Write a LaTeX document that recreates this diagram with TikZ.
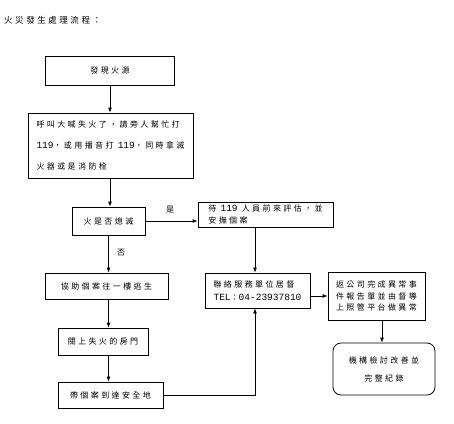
\documentclass[tikz,border=0pt]{standalone}
\usepackage{fontspec}
\setmainfont{Liberation Mono}
\newfontfamily\cjk[LetterSpace=30]{Noto Sans CJK TC}
\newfontfamily\latfont{Liberation Mono}
\newcommand{\lt}[1]{{\latfont\fontsize{9.5}{12}\selectfont #1}}
\usetikzlibrary{arrows.meta}
\tikzset{
  box/.style={draw, line width=0.8pt, inner sep=0pt, font=\cjk\fontsize{8}{13}\selectfont},
  conn/.style={draw, line width=0.8pt, -{Latex[length=5pt,width=4pt]}},
  plain/.style={draw, line width=0.8pt},
  lbl/.style={font=\cjk\fontsize{8}{13}\selectfont, inner sep=0pt}
}
\begin{document}
\begin{tikzpicture}[x=1pt,y=-1pt]
\useasboundingbox (0,0) rectangle (454,423);
\node[lbl, anchor=west, font=\cjk\fontsize{8.5}{13}\selectfont] (title) at (4,20) {火災發生處理流程：};

\node[box, minimum width=129pt, minimum height=29pt] (b1) at (110,70.5) {發現火源};
\node[box, minimum width=165pt, minimum height=65pt, align=left, font=\cjk\fontsize{8}{21}\selectfont] (b2) at (110.5,145.5)
  {呼叫大喊失火了，請旁人幫忙打\\\lt{119}，或用播音打 \lt{119}，同時拿滅\\火器或是消防栓};
\node[box, minimum width=73pt, minimum height=28pt] (b3) at (108.5,221) {火是否熄滅};
\node[box, minimum width=135pt, minimum height=25pt, align=left, font=\cjk\fontsize{8}{12.5}\selectfont] (b4) at (265.5,214.5)
  {待 \lt{119} 人員前來評估，並\\安撫個案};
\node[box, minimum width=105pt, minimum height=35pt, align=left, font=\cjk\fontsize{8}{13}\selectfont] (b5) at (257.5,290.5)
  {聯絡服務單位居督\\\lt{TEL}：\lt{04-23937810}};
\node[box, minimum width=97pt, minimum height=48pt, align=left, font=\cjk\fontsize{8}{11.7}\selectfont] (b6) at (376.5,296)
  {返公司完成異常事\\件報告單並由督導\\上照管平台做異常};
\node[box, rounded corners=8pt, minimum width=102pt, minimum height=52pt, align=center, font=\cjk\fontsize{8}{18}\selectfont] (b7) at (384,369)
  {機構檢討改善並\\完整紀錄};
\node[box, minimum width=123pt, minimum height=26pt] (b8) at (106.5,286) {協助個案往一樓逃生};
\node[box, minimum width=90pt, minimum height=27pt] (b9) at (103,341.5) {關上失火的房門};
\node[box, minimum width=105pt, minimum height=26pt] (b10) at (110.5,395) {帶個案到達安全地};

\coordinate (vx) at (255,0);
\coordinate (vy) at (382,0);

\draw[conn] (b1.south) -- (b1.south |- b2.north);
\draw[conn] (b1.south |- b2.south) -- (b1.south |- b3.north);
\draw[conn] (b3.east) -- (b3.east -| b4.west);
\node[lbl] (yes) at (170,210) {是};
\draw[conn] (b3.south) -- (b3.south |- b8.north);
\node[lbl] (no) at (121,253) {否};
\draw[conn] (b3.south |- b8.south) -- (b3.south |- b9.north);
\draw[conn] (b3.south |- b9.south) -- (b3.south |- b10.north);
\draw[conn] (b4.south -| vx) -- (b5.north -| vx);
\draw[conn] (b10.east) -- (b10.east -| vx) -- (b5.south -| vx);
\draw[conn] (b5.east |- b6.west) -- (b6.west);
\draw[conn] (b6.south -| vy) -- (b7.north -| vy);
\end{tikzpicture}
\end{document}
